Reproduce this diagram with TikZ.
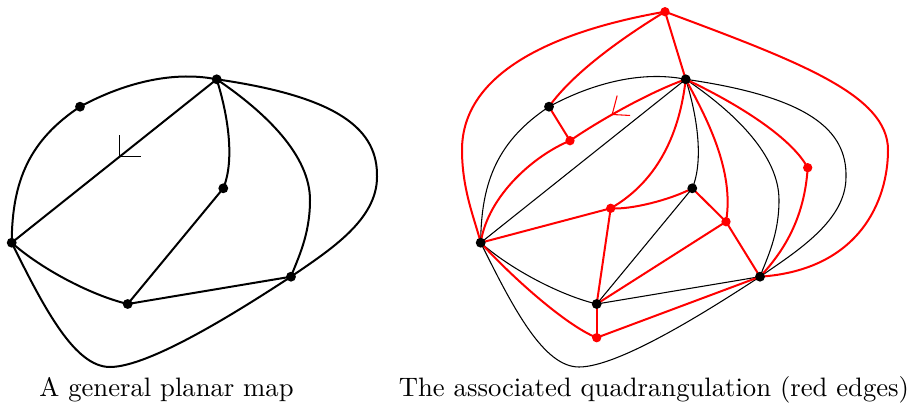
\documentclass[tikz,border=0pt]{standalone}
\begin{document}
\begin{tikzpicture}[x=0.375pt,y=-0.375pt,
  mapedge/.style={line width=0.75pt},
  thinedge/.style={line width=0.4pt},
  rededge/.style={red,line width=0.75pt},
  barb/.style={line width=0.4pt},
  bdot/.style={fill=black},
  rdot/.style={fill=red},
  caption/.style={anchor=base,inner sep=0pt,font=\normalsize}]
\useasboundingbox (0,0) rectangle (911,406);
\newcommand\mapvertices[1]{%
  \coordinate (#1A) at (216.7,79.3);
  \coordinate (#1B) at (80,106.7);
  \coordinate (#1C) at (11.7,242.7);
  \coordinate (#1D) at (223.3,188.3);
  \coordinate (#1E) at (127.7,304);
  \coordinate (#1F) at (291,276.7);}
\newcommand\mapedges[2]{%
  \draw[#2] (#1C) .. controls (12,180) and (30,140) .. (#1B)
     .. controls (120,85) and (170,70) .. (#1A);
  \draw[#2] (#1C) -- (#1A);
  \draw[#2] (#1A) .. controls (228,115) and (235,160) .. (#1D);
  \draw[#2] (#1D) -- (#1E);
  \draw[#2] (#1A) .. controls (265,112) and (310,155) .. (310,200)
     .. controls (310,235) and (298,258) .. (#1F);
  \draw[#2] (#1A) .. controls (340,97) and (378,130) .. (377,177)
     .. controls (377,220) and (330,250) .. (#1F);
  \draw[#2] (#1C) .. controls (40,268) and (90,295) .. (#1E);
  \draw[#2] (#1E) -- (#1F);
  \draw[#2] (#1C) .. controls (45,310) and (75,367) .. (110,367)
     .. controls (150,367) and (240,310) .. (#1F);}
% left map
\mapvertices{l}
\mapedges{l}{mapedge}
\path (lC) -- (lA) coordinate[pos=0.528] (ltip);
\draw[barb] (ltip) ++(0,-21) -- (ltip) -- ++(21,0);
% right map
\begin{scope}[shift={(469,0)}]
  \mapvertices{r}
  \mapedges{r}{thinedge}
\end{scope}
% red vertices
\coordinate (R1) at (665,11.7);
\coordinate (R2) at (570,140.7);
\coordinate (R3) at (610.7,208.3);
\coordinate (R4) at (726,221.7);
\coordinate (R5) at (807.7,167.7);
\coordinate (R6) at (596.7,337.7);
% red edges
\draw[rededge] (R1) -- (rA);
\draw[rededge] (R1) .. controls (630,33) and (575,70) .. (rB);
\draw[rededge] (R1) .. controls (560,30) and (462,70) .. (462,150)
   .. controls (462,190) and (475,220) .. (rC);
\draw[rededge] (R1) .. controls (800,62) and (888,95) .. (888,150)
   .. controls (888,200) and (860,270) .. (rF);
\draw[rededge] (rB) -- (R2);
\draw[rededge] (R2) .. controls (600,120) and (650,92) .. coordinate[pos=0.39] (rtip) (rA);
\draw[rededge] (R2) .. controls (535,155) and (488,195) .. (rC);
\draw[rededge] (rA) .. controls (680,130) and (660,180) .. (R3);
\draw[rededge] (R3) -- (rC);
\draw[rededge] (R3) .. controls (630,210) and (670,200) .. (rD);
\draw[rededge] (R3) -- (rE);
\draw[rededge] (rA) .. controls (705,115) and (735,170) .. (R4);
\draw[rededge] (rD) -- (R4);
\draw[rededge] (R4) -- (rE);
\draw[rededge] (R4) -- (rF);
\draw[rededge] (rA) .. controls (730,100) and (790,135) .. (R5);
\draw[rededge] (R5) .. controls (805,210) and (790,245) .. (rF);
\draw[rededge] (rC) .. controls (510,275) and (565,325) .. (R6);
\draw[rededge] (rE) -- (R6);
\draw[rededge] (R6) -- (rF);
\draw[barb,red] (rtip) ++(5,-19) -- (rtip) -- ++(18,1);
% dots
\foreach \v in {lA,lB,lC,lD,lE,lF,rA,rB,rC,rD,rE,rF}
  \fill[bdot] (\v) circle[radius=1.85pt];
\foreach \v in {R1,R2,R3,R4,R5,R6}
  \fill[rdot] (\v) circle[radius=1.75pt];
% captions
\node[caption] (cap1) at (166.5,396) {A general planar map};
\node[caption] (cap2) at (654,396) {The associated quadrangulation (red edges)};
\end{tikzpicture}
\end{document}
